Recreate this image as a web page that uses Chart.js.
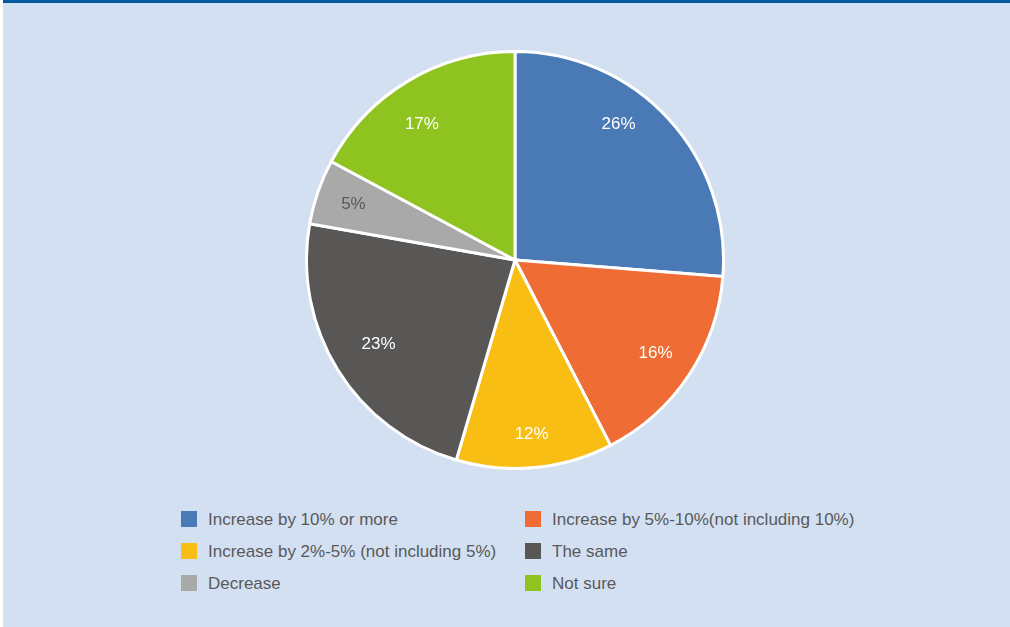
<!DOCTYPE html>
<html>
<head>
<meta charset="utf-8">
<script src="https://cdn.jsdelivr.net/npm/chart.js@4/dist/chart.umd.min.js"></script>
<style>
  html, body { margin: 0; padding: 0; }
  body {
    width: 1010px; height: 627px; position: relative; overflow: hidden;
    background: #fff;
    font-family: "Liberation Sans Narrow", "Arial Narrow", "Liberation Sans", sans-serif;
  }
  .panel {
    position: absolute; left: 3px; top: 0; right: 0; bottom: 0;
    background: #d3e0f2; border-top: 3px solid #005a9e;
  }
  .pie { position: absolute; left: 305px; top: 50px; width: 420px; height: 420px; }
  .legend { position: absolute; left: 181px; top: 504px; width: 720px; }
  .legend .item {
    position: absolute; height: 32px; line-height: 32px;
    font-size: 17px; color: #595959; white-space: nowrap;
  }
  .legend .box {
    display: inline-block; width: 16px; height: 16px;
    vertical-align: middle; margin-right: 11px; margin-top: -3px;
  }
</style>
</head>
<body>
<div class="panel"></div>
<div class="pie"><canvas id="pie"></canvas></div>
<div class="legend" id="legend"></div>

<script>
// answers and their shares (%)
const categories = [
  'Increase by 10% or more',
  'Increase by 5%-10%(not including 10%)',
  'Increase by 2%-5% (not including 5%)',
  'The same',
  'Decrease',
  'Not sure'
];
const shares = [26, 16, 12, 23, 5, 17];
const colors = ['#4a7ab5', '#ef6c35', '#f9be14', '#595656', '#a8a9a8', '#8fc31f'];
const labelColors = ['#fff', '#fff', '#fff', '#fff', '#595959', '#fff'];

// write percentages onto the slices
const sliceLabels = {
  id: 'sliceLabels',
  afterDatasetsDraw(chart) {
    const ctx = chart.ctx;
    const meta = chart.getDatasetMeta(0);
    // excel pulled the two top labels a bit toward 12 o'clock
    const turn = [-10, 0, 0, 0, 0, -3.5];
    const dist = [0.82, 0.81, 0.84, 0.77, 0.82, 0.79];
    ctx.save();
    ctx.font = '17px "Liberation Sans Narrow", "Arial Narrow", "Liberation Sans", sans-serif';
    ctx.textAlign = 'center';
    ctx.textBaseline = 'middle';
    meta.data.forEach((arc, i) => {
      const mid = (arc.startAngle + arc.endAngle) / 2 + turn[i] * Math.PI / 180;
      const r = arc.outerRadius * dist[i];
      ctx.fillStyle = labelColors[i];
      ctx.fillText(shares[i] + '%', arc.x + Math.cos(mid) * r, arc.y + Math.sin(mid) * r);
    });
    ctx.restore();
  }
};

new Chart(document.getElementById('pie'), {
  type: 'pie',
  data: {
    labels: categories,
    datasets: [{
      data: shares,
      backgroundColor: colors,
      borderColor: '#fff',
      borderWidth: 3
    }]
  },
  options: {
    responsive: true,
    maintainAspectRatio: false,
    animation: false,
    layout: { padding: 0 },
    plugins: {
      legend: { display: false },
      tooltip: { enabled: false }
    }
  },
  plugins: [sliceLabels]
});

// two column legend, same order as the slices
const legend = document.getElementById('legend');
categories.forEach((name, i) => {
  const item = document.createElement('div');
  item.className = 'item';
  item.style.left = (i % 2 ? 344 : 0) + 'px';
  item.style.top = (Math.floor(i / 2) * 32) + 'px';
  item.innerHTML = '<span class="box" style="background:' + colors[i] + '"></span>' + name;
  legend.appendChild(item);
});
</script>
</body>
</html>
